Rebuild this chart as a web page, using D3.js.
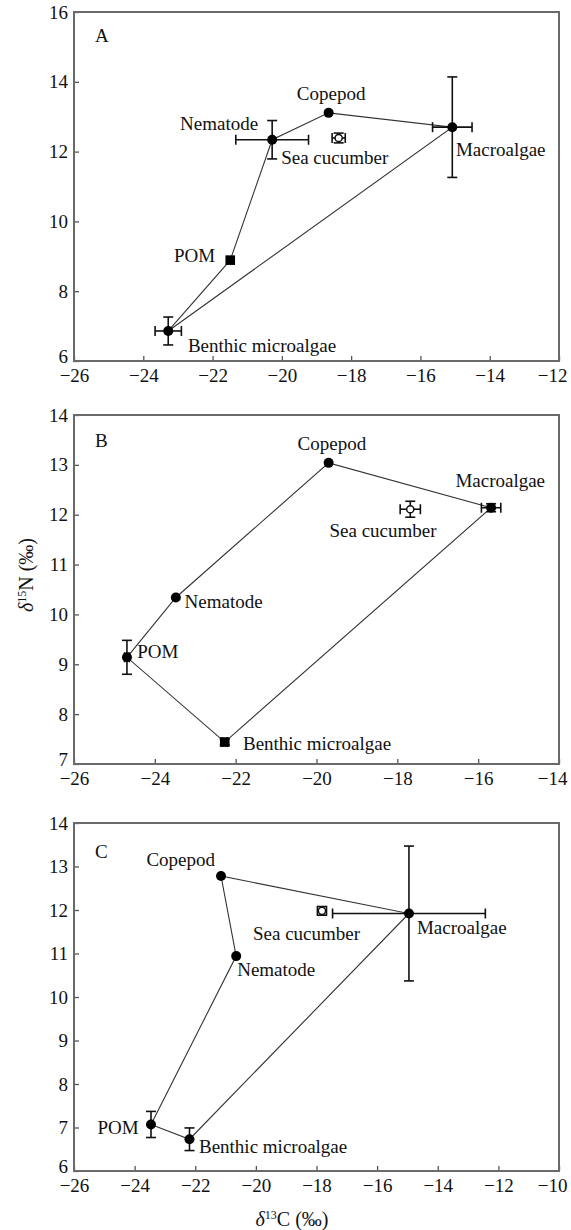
<!DOCTYPE html>
<html><head><meta charset="utf-8">
<script src="https://cdn.jsdelivr.net/npm/d3@7"></script>
<style>
html,body{margin:0;padding:0;background:#fff;}
text{font-family:"Liberation Serif","Times New Roman","DejaVu Serif",serif;fill:#111;}
</style></head>
<body>
<svg id="chart" width="571" height="1230"></svg>
<script>
// ---- data ----
const categories = ["Copepod", "Nematode", "Sea cucumber", "Macroalgae", "POM", "Benthic microalgae"];

const panelNames = ["A", "B", "C"];

// Panel A
const aX    = [-18.65, -20.28, -18.36, -15.08, -21.49, -23.28];
const aY    = [13.11, 12.34, 12.39, 12.70, 8.89, 6.86];
const aXErr = [0, 1.05, 0.19, 0.57, 0, 0.38];
const aYErr = [0, 0.55, 0.14, 1.44, 0, 0.40];
const aShape = ["circle", "circle", "open", "circle", "square", "circle"];
const aHull = [5, 4, 1, 0, 3];          // polygon order (indices into categories)
const aXTicks = [-26, -24, -22, -20, -18, -16, -14, -12];
const aYTicks = [6, 8, 10, 12, 14, 16];

// Panel B
const bX    = [-19.70, -23.48, -17.68, -15.68, -24.69, -22.27];
const bY    = [13.04, 10.34, 12.11, 12.14, 9.14, 7.44];
const bXErr = [0, 0, 0.25, 0.24, 0.06, 0.06];
const bYErr = [0, 0, 0.16, 0.08, 0.34, 0.06];
const bShape = ["circle", "circle", "open", "circle", "circle", "square"];
const bHull = [4, 1, 0, 3, 5];
const bXTicks = [-26, -24, -22, -20, -18, -16, -14];
const bYTicks = [7, 8, 9, 10, 11, 12, 13, 14];

// Panel C
const cX    = [-21.15, -20.65, -17.82, -14.95, -23.46, -22.19];
const cY    = [12.78, 10.94, 11.98, 11.92, 7.07, 6.73];
const cXErr = [0, 0, 0.15, 2.52, 0, 0];
const cYErr = [0, 0, 0.10, 1.55, 0.30, 0.26];
const cShape = ["circle", "circle", "open", "circle", "circle", "circle"];
const cHull = [4, 1, 0, 3, 5];
const cXTicks = [-26, -24, -22, -20, -18, -16, -14, -12, -10];
const cYTicks = [6, 7, 8, 9, 10, 11, 12, 13, 14];

// ---- layout (styles / positions, not data) ----
const L = 74, R = 559;
const layout = [
  {top: 12,  bottom: 361, letterY: 42,
   labels: [[2.5,-12.7,"middle"],[-14,-9.3,"end"],[-57.5,25.7,"start"],[3.6,29,"start"],[-15,2.3,"end"],[19.7,20.7,"start"]]},
  {top: 415, bottom: 764, letterY: 447,
   labels: [[3.3,-13.3,"middle"],[8.7,10.7,"start"],[-80.8,27.3,"start"],[-35.7,-20.3,"start"],[10.2,1,"start"],[18.2,8.3,"start"]]},
  {top: 823, bottom: 1171, letterY: 858,
   labels: [[-6,-10,"end"],[1,19.7,"start"],[-69,29.3,"start"],[8,20.7,"start"],[-12.4,9.7,"end"],[9.5,13.7,"start"]]}
];

const panels = [
  {x: aX, y: aY, xe: aXErr, ye: aYErr, shape: aShape, hull: aHull, xt: aXTicks, yt: aYTicks},
  {x: bX, y: bY, xe: bXErr, ye: bYErr, shape: bShape, hull: bHull, xt: bXTicks, yt: bYTicks},
  {x: cX, y: cY, xe: cXErr, ye: cYErr, shape: cShape, hull: cHull, xt: cXTicks, yt: cYTicks}
];

const svg = d3.select("#chart");
const FS = 19;
const FF = '"Liberation Serif","Times New Roman","DejaVu Serif",serif';
const fmt = d => (d < 0 ? "\u2212" + Math.abs(d) : String(d));

panels.forEach((p, pi) => {
  const lay = layout[pi];
  const xs = d3.scaleLinear().domain(d3.extent(p.xt)).range([L, R]);
  const ys = d3.scaleLinear().domain(d3.extent(p.yt)).range([lay.bottom, lay.top]);
  const g = svg.append("g");

  // axes with inward ticks
  const xAxis = d3.axisBottom(xs).tickValues(p.xt).tickSize(-5).tickPadding(8).tickFormat(fmt);
  const yAxis = d3.axisLeft(ys).tickValues(p.yt).tickSize(-5).tickPadding(6).tickFormat(fmt);
  const gx = g.append("g").attr("transform", `translate(0,${lay.bottom})`).call(xAxis);
  const gy = g.append("g").attr("transform", `translate(${L},0)`).call(yAxis);
  [gx, gy].forEach(a => {
    a.attr("font-family", FF);
    a.select(".domain").remove();
    a.selectAll(".tick line").attr("stroke", "#555").attr("stroke-width", 1.3);
    a.selectAll(".tick text").style("font-size", FS + "px").style("font-family", FF).attr("fill", "#111");
  });
  // last x tick label kept inside the picture, as in the reference
  gx.selectAll(".tick text").filter((d, i, n) => i === n.length - 1)
    .attr("text-anchor", "end").attr("x", 8);
  // lowest y tick label sits slightly raised above the corner, as in the reference
  gy.selectAll(".tick text").filter((d, i) => i === 0).attr("y", -5);

  // frame
  g.append("rect").attr("x", L).attr("y", lay.top).attr("width", R - L).attr("height", lay.bottom - lay.top)
    .attr("fill", "none").attr("stroke", "#6a6a6a").attr("stroke-width", 2);

  // panel letter
  g.append("text").attr("x", L + 21).attr("y", lay.letterY).style("font-size", FS + "px").text(panelNames[pi]);

  // hull polygon
  const pts = p.hull.map(i => [xs(p.x[i]), ys(p.y[i])]);
  g.append("path").attr("d", d3.line()(pts) + "Z").attr("fill", "none").attr("stroke", "#333").attr("stroke-width", 1.1);

  // error bars
  const cap = 5;
  categories.forEach((c, i) => {
    const cx = xs(p.x[i]), cy = ys(p.y[i]);
    const eg = g.append("g").attr("stroke", "#111").attr("stroke-width", 1.6);
    if (p.xe[i] > 0) {
      const x0 = xs(p.x[i] - p.xe[i]), x1 = xs(p.x[i] + p.xe[i]);
      eg.append("line").attr("x1", x0).attr("x2", x1).attr("y1", cy).attr("y2", cy);
      eg.append("line").attr("x1", x0).attr("x2", x0).attr("y1", cy - cap).attr("y2", cy + cap);
      eg.append("line").attr("x1", x1).attr("x2", x1).attr("y1", cy - cap).attr("y2", cy + cap);
    }
    if (p.ye[i] > 0) {
      const y0 = ys(p.y[i] - p.ye[i]), y1 = ys(p.y[i] + p.ye[i]);
      eg.append("line").attr("x1", cx).attr("x2", cx).attr("y1", y0).attr("y2", y1);
      eg.append("line").attr("x1", cx - cap).attr("x2", cx + cap).attr("y1", y0).attr("y2", y0);
      eg.append("line").attr("x1", cx - cap).attr("x2", cx + cap).attr("y1", y1).attr("y2", y1);
    }
  });

  // markers
  categories.forEach((c, i) => {
    const cx = xs(p.x[i]), cy = ys(p.y[i]);
    const s = p.shape[i];
    if (s === "square") {
      g.append("rect").attr("x", cx - 4.8).attr("y", cy - 4.8).attr("width", 9.6).attr("height", 9.6).attr("fill", "#000");
    } else if (s === "open") {
      g.append("circle").attr("cx", cx).attr("cy", cy).attr("r", 3.6).attr("fill", "#fff").attr("stroke", "#111").attr("stroke-width", 1.5);
    } else {
      g.append("circle").attr("cx", cx).attr("cy", cy).attr("r", 5).attr("fill", "#000");
    }
  });

  // labels
  categories.forEach((c, i) => {
    const [dx, dy, anchor] = lay.labels[i];
    g.append("text").attr("x", xs(p.x[i]) + dx).attr("y", ys(p.y[i]) + dy)
      .attr("text-anchor", anchor).style("font-size", FS + "px").text(c);
  });
});

// axis titles
const yt = svg.append("text").attr("transform", "translate(33,575) rotate(-90)").attr("text-anchor", "middle").style("font-size", "20px");
yt.append("tspan").style("font-style", "italic").text("\u03b4");
yt.append("tspan").attr("dy", -7).style("font-size", "12px").text("15");
yt.append("tspan").attr("dy", 7).text("N (\u2030)");

const xt = svg.append("text").attr("x", 292).attr("y", 1226).attr("text-anchor", "middle").style("font-size", "20px");
xt.append("tspan").style("font-style", "italic").text("\u03b4");
xt.append("tspan").attr("dy", -7).style("font-size", "12px").text("13");
xt.append("tspan").attr("dy", 7).text("C (\u2030)");
</script>
</body></html>
